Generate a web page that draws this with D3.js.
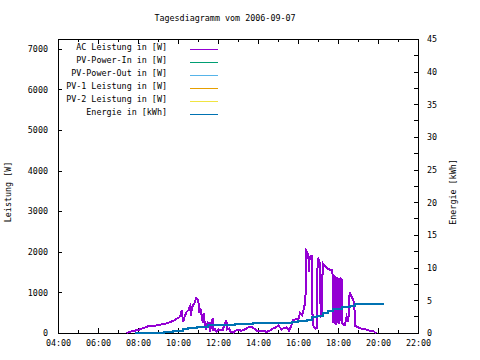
<!DOCTYPE html>
<html>
<head>
<meta charset="utf-8">
<script src="https://cdn.jsdelivr.net/npm/d3@7"></script>
<style>
  html, body { margin: 0; padding: 0; background: #fff; }
  svg text { font-family: "DejaVu Sans Mono", monospace; font-size: 8.4px; fill: #000; }
</style>
</head>
<body>
<div id="chart"></div>
<script>
// AC Leistung [W]
var acTimes = ["07:26","07:36","07:46","07:57","08:06","08:16","08:26","08:36","08:46","08:56",
  "09:06","09:16","09:26","09:36","09:46","09:56","10:03","10:07","10:11","10:13",
  "10:16","10:21","10:26","10:31","10:36","10:39","10:42","10:46","10:51","10:54",
  "10:58","11:01","11:04","11:07","11:11","11:14","11:17","11:21","11:24","11:29",
  "11:33","11:36","11:41","11:44","11:46","11:51","11:56","12:01","12:06","12:14",
  "12:21","12:25","12:28","12:34","12:38","12:46","12:51","13:01","13:11","13:21",
  "13:31","13:41","13:51","13:56","14:06","14:16","14:26","14:36","14:46","14:54",
  "15:01","15:11","15:18","15:26","15:33","15:41","15:46","15:56","16:00","16:06",
  "16:12","16:16","16:21","16:23","16:25","16:28","16:31","16:33","16:35","16:38",
  "16:41","16:44","16:48","16:53","16:56","16:59","17:03","17:06","17:08","17:12",
  "17:14","17:21","17:26","17:31","17:36","17:41","17:44","17:46","17:48","17:50",
  "17:52","17:54","17:56","17:58","18:00","18:02","18:04","18:06","18:08","18:10",
  "18:12","18:13","18:16","18:21","18:26","18:31","18:34","18:36","18:39","18:43",
  "18:46","18:49","18:51","18:56","19:06","19:16","19:26","19:36","19:46","19:51","19:56"];
var acValues = [0,30,50,70,90,120,155,175,160,190,
  205,220,240,270,300,350,380,420,560,420,
  280,430,520,560,650,420,640,690,760,860,
  840,790,490,600,440,260,480,200,115,260,
  250,30,280,360,75,90,30,90,75,75,
  240,320,90,115,30,10,55,75,55,90,
  140,155,90,60,40,50,30,60,115,140,
  180,90,120,140,60,200,320,345,300,485,
  430,550,730,1000,2020,1980,1920,1500,1900,1850,
  1920,200,150,110,120,1850,1780,1720,400,420,
  1720,1650,1600,1580,1560,1550,1430,240,1420,220,
  1400,200,1380,250,1350,220,1350,300,1340,1320,
  1300,240,200,200,400,280,930,975,930,850,
  810,690,180,155,115,100,80,55,50,15,0];

// Energie [kWh]
var energyTimes = ["07:51","09:18","09:46","10:16","10:31","10:56","11:31","12:51","13:46","15:41",
  "16:01","16:26","16:41","16:56","17:16","17:31","17:46","18:11","18:36","18:51","20:17"];
var energyValues = [0,0.2,0.35,0.57,0.72,0.96,1.22,1.38,1.55,1.73,
  1.88,2.05,2.4,2.6,3.0,3.3,3.62,4.0,4.13,4.4,4.4];

// no data for these in this day
var pvInValues = [], pvOutValues = [], pv1Values = [], pv2Values = [];

var legendLabels = ["AC Leistung in [W]","PV-Power-In in [W]","PV-Power-Out in [W]",
  "PV-1 Leistung in [W]","PV-2 Leistung in [W]","Energie in [kWh]"];
var legendColors = ["#9400d3","#009e73","#56b4e9","#e69f00","#f0e442","#0072b2"];

var leftTicks = [0,1000,2000,3000,4000,5000,6000,7000];
var rightTicks = [0,5,10,15,20,25,30,35,40,45];
var xRange = ["04:00","22:00"];

var W = 480, H = 360,
    m = {left: 58, right: 62, top: 39, bottom: 27},
    pw = W - m.left - m.right, ph = H - m.top - m.bottom;

var parse = d3.timeParse("%H:%M");

var svg = d3.select("#chart").append("svg")
  .attr("width", W).attr("height", H);

var x = d3.scaleTime().domain(xRange.map(parse)).range([m.left, m.left + pw]);
var y = d3.scaleLinear().domain([0, 7240]).range([m.top + ph, m.top]);
var y2 = d3.scaleLinear().domain([0, 45]).range([m.top + ph, m.top]);

svg.append("text")
  .attr("x", 225).attr("y", 21)
  .attr("text-anchor", "middle")
  .text("Tagesdiagramm vom 2006-09-07");

// axes: gnuplot style, ticks pointing inward
svg.append("g").attr("transform", "translate(0," + (m.top + ph) + ")")
  .call(d3.axisBottom(x).ticks(d3.timeHour.every(2)).tickFormat(d3.timeFormat("%H:%M")).tickSize(-5).tickPadding(7));
var xMinor = d3.timeHour.every(1).range(x.domain()[0], x.domain()[1]).concat([x.domain()[1]]);
svg.append("g").selectAll("line").data(xMinor).enter().append("line")
  .attr("x1", function(d) { return x(d); }).attr("x2", function(d) { return x(d); })
  .attr("y1", m.top + ph).attr("y2", m.top + ph - 3);
svg.append("g").selectAll("line").data(xMinor).enter().append("line")
  .attr("x1", function(d) { return x(d); }).attr("x2", function(d) { return x(d); })
  .attr("y1", m.top).attr("y2", function(d) { return m.top + (d.getHours() % 2 ? 3 : 5); });

svg.append("g").attr("transform", "translate(" + m.left + ",0)")
  .call(d3.axisLeft(y).tickValues(leftTicks).tickSize(-4).tickPadding(10).tickFormat(d3.format("d")));

svg.append("g").attr("transform", "translate(" + (m.left + pw) + ",0)")
  .call(d3.axisRight(y2).tickValues(rightTicks).tickSize(-4).tickPadding(9).tickFormat(d3.format("d")));
svg.append("g").selectAll("line").data(rightTicks.slice(0, -1)).enter().append("line")
  .attr("x1", m.left + pw).attr("x2", m.left + pw - 4)
  .attr("y1", function(d) { return y2(d + 2.5); }).attr("y2", function(d) { return y2(d + 2.5); });

svg.selectAll(".domain").remove();
svg.selectAll("line").attr("stroke", "#000").attr("shape-rendering", "crispEdges");
svg.selectAll(".tick text").style("font-size", "8.4px");

svg.append("rect")
  .attr("x", m.left + 0.5).attr("y", m.top + 0.5)
  .attr("width", pw).attr("height", ph)
  .attr("fill", "none").attr("stroke", "#000").attr("shape-rendering", "crispEdges");

svg.append("text")
  .attr("transform", "translate(11,192) rotate(-90)")
  .attr("text-anchor", "middle").text("Leistung [W]");
svg.append("text")
  .attr("transform", "translate(456,192) rotate(-90)")
  .attr("text-anchor", "middle").text("Energie [kWh]");

// series
function pts(times, vals) {
  return times.slice(0, vals.length).map(function(t, i) { return [parse(t), vals[i]]; });
}
var powerLine = d3.line().x(function(d) { return x(d[0]); }).y(function(d) { return y(d[1]); });
var energyLine = d3.line().x(function(d) { return x(d[0]); }).y(function(d) { return y2(d[1]); })
  .curve(d3.curveStepAfter);

var series = [
  {vals: pts(acTimes, acValues), line: powerLine, color: legendColors[0]},
  {vals: pts(acTimes, pvInValues), line: powerLine, color: legendColors[1]},
  {vals: pts(acTimes, pvOutValues), line: powerLine, color: legendColors[2]},
  {vals: pts(acTimes, pv1Values), line: powerLine, color: legendColors[3]},
  {vals: pts(acTimes, pv2Values), line: powerLine, color: legendColors[4]},
  {vals: pts(energyTimes, energyValues), line: energyLine, color: legendColors[5]}
];
svg.append("g").selectAll("path").data(series).enter().append("path")
  .attr("d", function(s) { return s.vals.length ? s.line(s.vals) : null; })
  .attr("fill", "none")
  .attr("stroke", function(s) { return s.color; })
  .attr("stroke-width", 2)
  .attr("shape-rendering", "crispEdges");

// legend
var lg = svg.append("g").selectAll("g").data(legendLabels).enter().append("g")
  .attr("transform", function(d, i) { return "translate(0," + (47 + i * 13) + ")"; });
lg.append("text").attr("x", 167).attr("y", 3).attr("text-anchor", "end").text(function(d) { return d; });
lg.append("line").attr("x1", 190).attr("x2", 218).attr("y1", 2.5).attr("y2", 2.5)
  .attr("stroke", function(d, i) { return legendColors[i]; }).attr("stroke-width", 1)
  .attr("shape-rendering", "crispEdges");
</script>
</body>
</html>
